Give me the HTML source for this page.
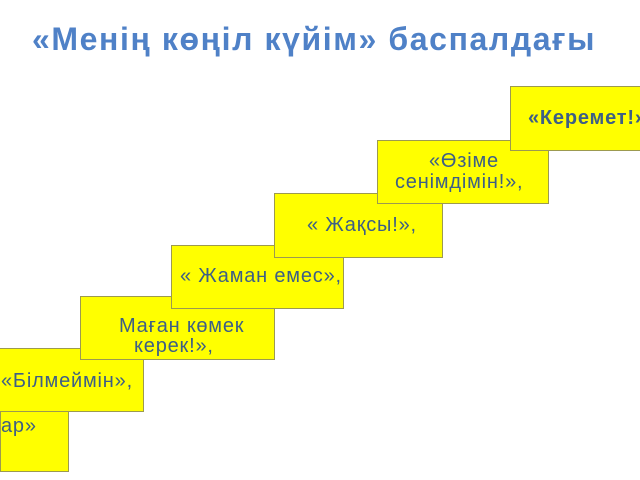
<!DOCTYPE html>
<html><head><meta charset="utf-8"><style>
body{margin:0;width:640px;height:480px;background:#fff;position:relative;overflow:hidden;font-family:"Liberation Sans",sans-serif}
.t{position:absolute;left:0;width:640px;top:21px;text-align:center;color:#4f81c7;font-weight:bold;font-size:32px;letter-spacing:1.6px;padding-right:12px;box-sizing:border-box;white-space:nowrap}
.b{position:absolute;background:#ffff00;border:1px solid #9c9a50;box-sizing:border-box;color:#3d5f86;font-size:20px;line-height:21px;letter-spacing:0.8px}
.b span{position:absolute;white-space:nowrap}
</style></head><body>
<div class="t">«Менің көңіл күйім» баспалдағы</div>
<div class="b" style="left:0;top:411px;width:69px;height:61px"><span style="left:0;top:4px">ар»</span></div>
<div class="b" style="left:-2px;top:348px;width:146px;height:64px"><span style="left:2px;top:22px">«Білмеймін»,</span></div>
<div class="b" style="left:80px;top:296px;width:195px;height:64px"><span style="left:38px;top:19px">Маған көмек</span><span style="left:53px;top:39px">керек!»,</span></div>
<div class="b" style="left:171px;top:245px;width:173px;height:64px"><span style="left:8px;top:20px">« Жаман емес»,</span></div>
<div class="b" style="left:274px;top:193px;width:169px;height:65px"><span style="left:32px;top:21px">« Жақсы!»,</span></div>
<div class="b" style="left:377px;top:140px;width:172px;height:64px"><span style="left:51px;top:10px">«Өзіме</span><span style="left:17px;top:31px">сенімдімін!»,</span></div>
<div class="b" style="left:510px;top:86px;width:140px;height:65px;font-weight:bold"><span style="left:17px;top:21px">«Керемет!»</span></div>
</body></html>
